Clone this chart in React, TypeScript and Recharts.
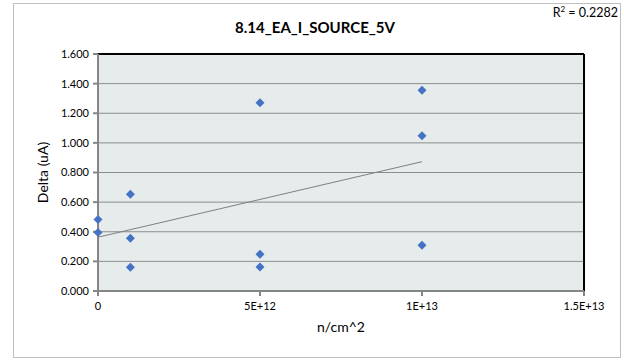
import { ScatterChart, Scatter, XAxis, YAxis, CartesianGrid, ReferenceLine } from 'recharts'

const chartTitle = '8.14_EA_I_SOURCE_5V'
const fluence = [0, 0, 1e12, 1e12, 1e12, 5e12, 5e12, 5e12, 1e13, 1e13, 1e13]
const delta = [0.483, 0.395, 0.654, 0.356, 0.16, 1.271, 0.248, 0.162, 1.356, 1.048, 0.309]
const xTicks = [0, 5e12, 1e13, 1.5e13]
const xTickLabels = ['0', '5E+12', '1E+13', '1.5E+13']
const yTicks = [0, 0.2, 0.4, 0.6, 0.8, 1.0, 1.2, 1.4, 1.6]

const points = fluence.map((x, i) => ({ x, y: delta[i] }))

// linear trendline (least squares) from the points
const n = points.length
const mx = fluence.reduce((a, b) => a + b, 0) / n
const my = delta.reduce((a, b) => a + b, 0) / n
let sxy = 0
let sxx = 0
points.forEach((p) => {
    sxy += (p.x - mx) * (p.y - my)
    sxx += (p.x - mx) ** 2
})
const slope = sxy / sxx
const intercept = my - slope * mx
const xMax = Math.max(...fluence)
const trend = [
    { x: 0, y: intercept },
    { x: xMax, y: intercept + slope * xMax },
]

const font = 'Lato, "Open Sans", sans-serif'

const Diamond = (props: any) => {
    const { cx, cy } = props
    const r = 4.5
    return <polygon points={`${cx},${cy - r} ${cx + r},${cy} ${cx},${cy + r} ${cx - r},${cy}`} fill="#4472C4" />
}

export default function App() {
    return (
        <div style={{ position: 'fixed', left: 0, top: 0, width: 624, height: 360, background: '#fff', fontFamily: font }}>
            <div style={{ position: 'absolute', left: 13, top: 3, width: 606, height: 353, border: '1px solid #BFBFBF' }} />
            <div style={{ position: 'absolute', left: 0, top: 18, width: 630, textAlign: 'center', fontSize: 15, fontWeight: 700, color: '#000' }}>
                {chartTitle}
            </div>
            <div style={{ position: 'absolute', right: 6, top: 4, fontSize: 12.5, color: '#000', background: '#fff' }}>
                R<sup style={{ fontSize: 8 }}>2</sup> = 0.2282
            </div>
            <div style={{ position: 'absolute', left: 0, top: 0 }}>
                <ScatterChart width={624} height={360} margin={{ top: 54, right: 40, bottom: 0, left: 0 }}>
                    <CartesianGrid vertical={false} stroke="#8C8C8C" fill="#E6ECEC" fillOpacity={1} />
                    <XAxis
                        type="number"
                        dataKey="x"
                        domain={[0, 1.5e13]}
                        ticks={xTicks}
                        tickFormatter={(v: number) => xTickLabels[xTicks.indexOf(v)] ?? ''}
                        height={69}
                        stroke="#868686"
                        strokeWidth={2}
                        tick={{ fill: '#000', fontSize: 11, fontFamily: font }}
                        tickSize={5}
                        tickMargin={6}
                        label={{ value: 'n/cm^2', position: 'insideTop', offset: 31, fill: '#000', fontSize: 14, fontFamily: font }}
                    />
                    <YAxis
                        type="number"
                        dataKey="y"
                        domain={[0, 1.6]}
                        ticks={yTicks}
                        tickFormatter={(v: number) => v.toFixed(3)}
                        width={98}
                        stroke="#868686"
                        strokeWidth={2}
                        tick={{ fill: '#000', fontSize: 11, fontFamily: font }}
                        tickSize={5}
                        tickMargin={4}
                        label={{ value: 'Delta (uA)', angle: -90, position: 'insideLeft', offset: 43, fill: '#000', fontSize: 14, fontFamily: font, style: { textAnchor: 'middle' } }}
                    />
                    <ReferenceLine y={1.6} stroke="#000" strokeWidth={2} />
                    <ReferenceLine x={1.5e13} stroke="#000" strokeWidth={2} />
                    <Scatter data={trend} line={{ stroke: '#7F7F7F', strokeWidth: 1 }} shape={() => <g />} isAnimationActive={false} />
                    <Scatter data={points} shape={Diamond} isAnimationActive={false} />
                </ScatterChart>
            </div>
        </div>
    )
}
